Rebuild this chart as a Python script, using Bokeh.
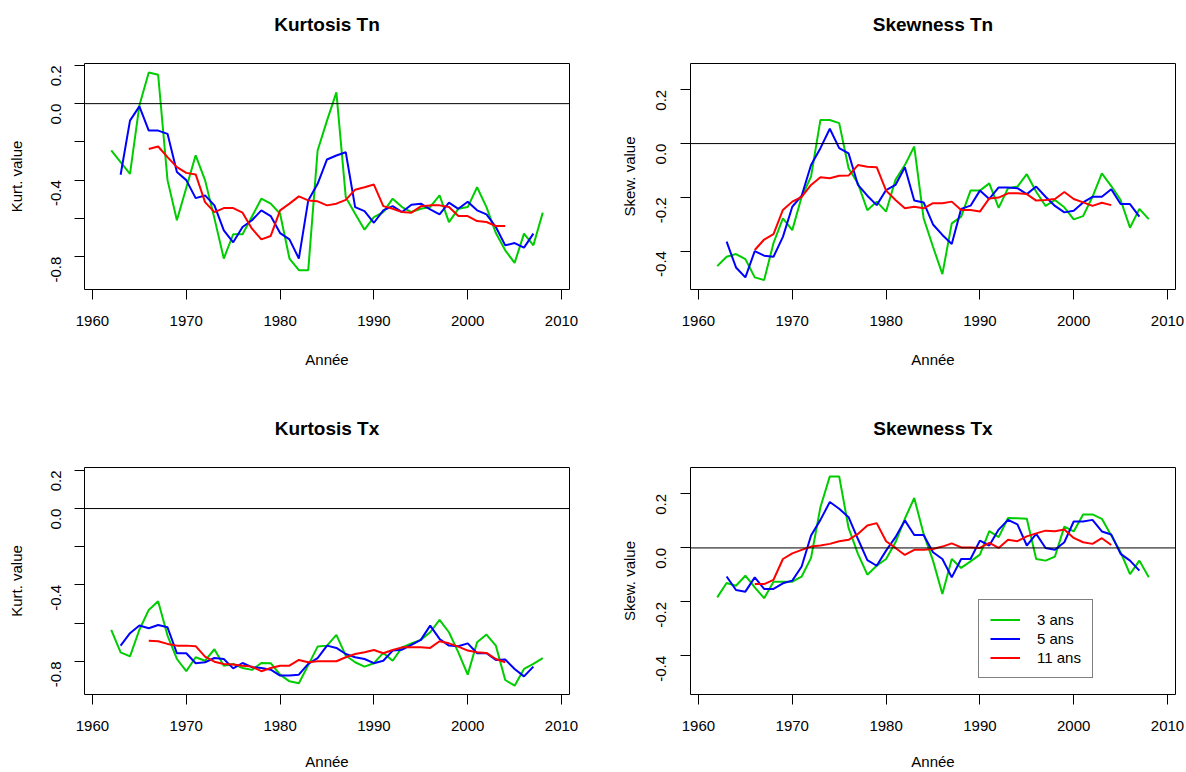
import math
from bokeh.plotting import figure
from bokeh.layouts import gridplot
from bokeh.models import Span, FixedTicker, Range1d, Legend, LegendItem, Title
from bokeh.embed import file_html
from bokeh.resources import INLINE

# ---------------- data ----------------
years3 = list(range(1962, 2009))   # 3-year window centres
years5 = list(range(1963, 2008))   # 5-year window centres
years11 = list(range(1966, 2005))  # 11-year window centres

kurt_tn_3 = [-0.245, -0.306, -0.367, -0.01, 0.163, 0.151, -0.40, -0.61, -0.44, -0.27,
             -0.40, -0.60, -0.81, -0.683, -0.683, -0.59, -0.497, -0.523, -0.576, -0.81,
             -0.871, -0.871, -0.245, -0.089, 0.059, -0.489, -0.576, -0.659, -0.593, -0.567,
             -0.497, -0.541, -0.567, -0.55, -0.54, -0.48, -0.62, -0.55, -0.541, -0.437,
             -0.541, -0.677, -0.767, -0.833, -0.68, -0.741, -0.57]
kurt_tn_5 = [-0.372, -0.089, -0.014, -0.141, -0.141, -0.158, -0.358, -0.40, -0.494, -0.48,
             -0.532, -0.663, -0.725, -0.645, -0.61, -0.558, -0.588, -0.677, -0.71, -0.81,
             -0.506, -0.419, -0.292, -0.271, -0.254, -0.541, -0.562, -0.623, -0.558, -0.536,
             -0.567, -0.529, -0.523, -0.553, -0.579, -0.518, -0.55, -0.513, -0.558, -0.579,
             -0.645, -0.741, -0.729, -0.753, -0.68]
kurt_tn_11 = [-0.237, -0.224, -0.28, -0.332, -0.362, -0.37, -0.515, -0.567, -0.546, -0.546,
              -0.57, -0.654, -0.71, -0.692, -0.558, -0.523, -0.485, -0.506, -0.511, -0.532,
              -0.523, -0.503, -0.45, -0.437, -0.423, -0.536, -0.55, -0.567, -0.57, -0.537,
              -0.532, -0.532, -0.541, -0.588, -0.588, -0.614, -0.619, -0.64, -0.64]

skew_tn_3 = [-0.456, -0.421, -0.411, -0.43, -0.498, -0.508, -0.37, -0.278, -0.322, -0.198,
             -0.123, 0.088, 0.088, 0.076, -0.092, -0.148, -0.248, -0.216, -0.253, -0.135,
             -0.08, -0.011, -0.278, -0.384, -0.486, -0.297, -0.272, -0.175, -0.175, -0.148,
             -0.239, -0.166, -0.16, -0.114, -0.179, -0.232, -0.21, -0.237, -0.282, -0.27,
             -0.198, -0.111, -0.158, -0.21, -0.313, -0.243, -0.281]
skew_tn_5 = [-0.365, -0.461, -0.498, -0.40, -0.417, -0.421, -0.347, -0.235, -0.194, -0.08,
             -0.017, 0.055, -0.017, -0.036, -0.154, -0.194, -0.229, -0.173, -0.154, -0.088,
             -0.212, -0.219, -0.301, -0.34, -0.374, -0.243, -0.231, -0.175, -0.206, -0.163,
             -0.163, -0.166, -0.188, -0.16, -0.198, -0.232, -0.256, -0.25, -0.219, -0.198,
             -0.198, -0.17, -0.225, -0.225, -0.272]
skew_tn_11 = [-0.396, -0.357, -0.337, -0.247, -0.216, -0.198, -0.154, -0.125, -0.129, -0.12,
              -0.119, -0.08, -0.086, -0.088, -0.175, -0.21, -0.241, -0.235, -0.241, -0.222,
              -0.222, -0.216, -0.247, -0.247, -0.253, -0.204, -0.201, -0.185, -0.185, -0.188,
              -0.212, -0.21, -0.206, -0.18, -0.206, -0.219, -0.232, -0.22, -0.229]

kurt_tx_3 = [-0.636, -0.753, -0.774, -0.635, -0.531, -0.486, -0.665, -0.788, -0.852, -0.779,
             -0.797, -0.737, -0.823, -0.814, -0.835, -0.845, -0.809, -0.81, -0.87, -0.905,
             -0.915, -0.82, -0.723, -0.718, -0.662, -0.77, -0.805, -0.828, -0.81, -0.756,
             -0.797, -0.727, -0.706, -0.688, -0.648, -0.583, -0.648, -0.753, -0.87, -0.70,
             -0.66, -0.718, -0.898, -0.928, -0.84, -0.814, -0.783]
kurt_tx_5 = [-0.718, -0.653, -0.613, -0.627, -0.61, -0.622, -0.758, -0.758, -0.81, -0.805,
             -0.783, -0.788, -0.837, -0.809, -0.831, -0.835, -0.844, -0.875, -0.875, -0.87,
             -0.814, -0.783, -0.718, -0.73, -0.762, -0.779, -0.788, -0.81, -0.797, -0.744,
             -0.739, -0.714, -0.688, -0.613, -0.683, -0.718, -0.721, -0.706, -0.758, -0.758,
             -0.793, -0.791, -0.84, -0.879, -0.828]
kurt_tx_11 = [-0.692, -0.695, -0.709, -0.718, -0.718, -0.721, -0.776, -0.802, -0.814, -0.817,
              -0.823, -0.828, -0.852, -0.835, -0.823, -0.823, -0.793, -0.805, -0.80, -0.80,
              -0.80, -0.779, -0.762, -0.753, -0.741, -0.758, -0.741, -0.727, -0.727, -0.727,
              -0.73, -0.695, -0.706, -0.723, -0.744, -0.753, -0.756, -0.788, -0.805]

skew_tx_3 = [-0.183, -0.13, -0.14, -0.103, -0.146, -0.186, -0.125, -0.125, -0.125, -0.106,
             -0.037, 0.151, 0.265, 0.265, 0.074, -0.022, -0.099, -0.066, -0.041, 0.021,
             0.108, 0.185, 0.052, -0.047, -0.171, -0.041, -0.074, -0.05, -0.025, 0.062,
             0.04, 0.111, 0.11, 0.108, -0.041, -0.047, -0.032, 0.079, 0.061, 0.124,
             0.124, 0.108, 0.046, -0.016, -0.097, -0.047, -0.109]
skew_tx_5 = [-0.106, -0.156, -0.162, -0.109, -0.152, -0.152, -0.131, -0.121, -0.069, 0.046,
             0.104, 0.17, 0.145, 0.114, 0.033, -0.045, -0.066, -0.01, 0.04, 0.102,
             0.048, 0.048, -0.016, -0.041, -0.109, -0.041, -0.041, 0.027, 0.009, 0.068,
             0.104, 0.087, 0.009, 0.052, 0.0, -0.007, 0.021, 0.098, 0.098, 0.104,
             0.061, 0.05, -0.022, -0.047, -0.084]
skew_tx_11 = [-0.134, -0.134, -0.118, -0.041, -0.02, -0.007, 0.005, 0.009, 0.015, 0.025,
              0.03, 0.052, 0.083, 0.092, 0.025, 0.0, -0.026, -0.007, -0.007, -0.004,
              0.005, 0.017, 0.002, 0.002, 0.0, 0.019, 0.0, 0.03, 0.025, 0.043,
              0.054, 0.064, 0.062, 0.068, 0.037, 0.021, 0.015, 0.036, 0.011]

series_names = ["3 ans", "5 ans", "11 ans"]
series_colors = ["#00CD00", "#0000FF", "#FF0000"]

x_ticks = [1960, 1970, 1980, 1990, 2000, 2010]
kurt_ticks = [-0.8, -0.6, -0.4, -0.2, 0.0, 0.2]
kurt_labels = ["-0.8", "", "-0.4", "", "0.0", "0.2"]
skew_ticks = [-0.4, -0.2, 0.0, 0.2]
skew_labels = ["-0.4", "-0.2", "0.0", "0.2"]

FONT = "Liberation Sans"


def make_panel(title, ylabel, vals, yrange, yticks, ylabels, col, row, with_legend=False):
    left = 84 if col == 0 else 97
    right = 24 if col == 0 else 11
    top = 63 if row == 0 else 81
    bottom = 97 if row == 0 else 78
    p = figure(width=593, height=386, output_backend="svg", toolbar_location=None,
               x_range=Range1d(1959.15, 2010.85), y_range=Range1d(*yrange),
               min_border_left=left, min_border_right=right,
               min_border_top=top, min_border_bottom=bottom,
               x_axis_label="Année", y_axis_label=ylabel)
    # spacer between frame and title (closest to the frame)
    p.add_layout(Title(text=" ", text_font_size="2px", standoff=24), "above")
    p.title.text = title
    p.title.align = "center"
    p.title.vertical_align = "bottom"
    p.title.text_font = FONT
    p.title.text_font_size = "19px"
    p.title.text_font_style = "bold"
    p.title.text_color = "black"
    p.title.standoff = 2

    p.background_fill_color = "white"
    p.border_fill_color = "white"
    p.outline_line_color = "black"
    p.outline_line_width = 1
    p.outline_line_alpha = 1.0
    p.xgrid.visible = False
    p.ygrid.visible = False

    for ax in (p.xaxis[0], p.yaxis[0]):
        ax.axis_line_color = "black"
        ax.major_tick_line_color = "black"
        ax.minor_tick_line_color = None
        ax.major_tick_in = 0
        ax.major_tick_out = 10
        ax.major_label_text_font = FONT
        ax.major_label_text_font_size = "15px"
        ax.major_label_text_color = "black"
        ax.axis_label_text_font = FONT
        ax.axis_label_text_font_size = "15px"
        ax.axis_label_text_font_style = "normal"
        ax.axis_label_text_color = "black"

    p.xaxis.ticker = FixedTicker(ticks=x_ticks)
    p.xaxis.bounds = (x_ticks[0], x_ticks[-1])
    p.xaxis.major_label_standoff = 16
    p.xaxis.axis_label_standoff = 22 if row == 0 else 19

    p.yaxis.ticker = FixedTicker(ticks=yticks)
    p.yaxis.major_label_overrides = {t: l if l else " " for t, l in zip(yticks, ylabels)}
    p.yaxis.bounds = (min(yticks), max(yticks))
    p.yaxis.major_label_orientation = math.pi / 2
    p.yaxis.major_label_standoff = 19
    p.yaxis.axis_label_standoff = 11

    p.add_layout(Span(location=0, dimension="width", line_color="black", line_width=1))

    xs = [years3, years5, years11]
    items = []
    for x, y, name, c in zip(xs, vals, series_names, series_colors):
        r = p.line(x, y, line_color=c, line_width=2)
        items.append(LegendItem(label=name, renderers=[r]))

    if with_legend:
        leg = Legend(items=items, location=(288, 16))
        leg.label_text_font = FONT
        leg.label_text_font_size = "15px"
        leg.label_text_color = "black"
        leg.glyph_width = 30
        leg.glyph_height = 15
        leg.label_height = 15
        leg.spacing = 2
        leg.padding = 11
        leg.margin = 0
        leg.label_standoff = 17
        leg.border_line_color = "black"
        leg.border_line_width = 1
        leg.background_fill_color = "white"
        leg.background_fill_alpha = 1.0
        p.add_layout(leg, "center")
    return p


p1 = make_panel("Kurtosis Tn", "Kurt. value", [kurt_tn_3, kurt_tn_5, kurt_tn_11],
                (-0.972, 0.21), kurt_ticks, kurt_labels, 0, 0)
p2 = make_panel("Skewness Tn", "Skew. value", [skew_tn_3, skew_tn_5, skew_tn_11],
                (-0.543, 0.298), skew_ticks, skew_labels, 1, 0)
p3 = make_panel("Kurtosis Tx", "Kurt. value", [kurt_tx_3, kurt_tx_5, kurt_tx_11],
                (-0.974, 0.215), kurt_ticks, kurt_labels, 0, 1)
p4 = make_panel("Skewness Tx", "Skew. value", [skew_tx_3, skew_tx_5, skew_tx_11],
                (-0.543, 0.298), skew_ticks, skew_labels, 1, 1, with_legend=True)

layout = gridplot([[p1, p2], [p3, p4]], toolbar_location=None)

open("out.html", "w").write(file_html(layout, INLINE))
